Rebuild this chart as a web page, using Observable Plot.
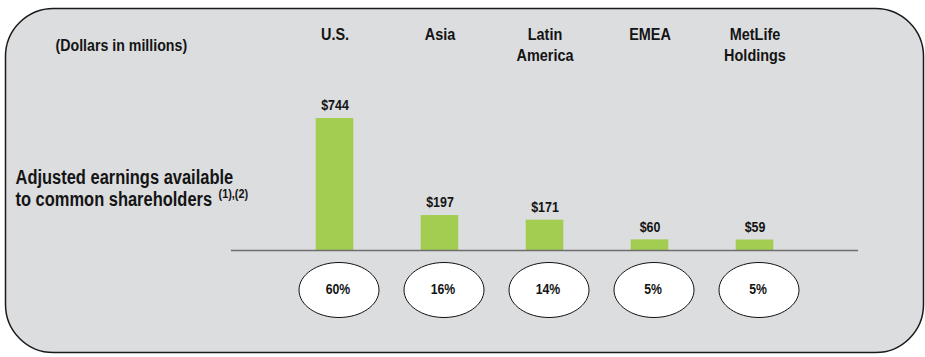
<!DOCTYPE html>
<html>
<head>
<meta charset="utf-8">
<script src="https://cdn.jsdelivr.net/npm/d3@7"></script>
<script src="https://cdn.jsdelivr.net/npm/@observablehq/plot@0.6"></script>
<style>
  html, body { margin: 0; padding: 0; background: #ffffff; }
  #chart svg { display: block; }
</style>
</head>
<body>
<div id="chart"></div>
<script>
// ---- data ----
const categories   = ["U.S.", "Asia", "Latin America", "EMEA", "MetLife Holdings"];
const headerLabels = ["U.S.", "Asia", "Latin\nAmerica", "EMEA", "MetLife\nHoldings"];
const earnings     = [744, 197, 171, 60, 59];
const valueLabels  = ["$744", "$197", "$171", "$60", "$59"];
const shareLabels  = ["60%", "16%", "14%", "5%", "5%"];
const unitsNote    = "(Dollars in millions)";
const rowLabel     = "Adjusted earnings available\nto common shareholders";
const rowFootnote  = "(1),(2)";

const table = categories.map((c, i) => ({
  cat: c, header: headerLabels[i], value: earnings[i], label: valueLabels[i], share: shareLabels[i]
}));

// the reference uses a condensed face; emulate it by squeezing glyphs horizontally
const squeeze = 0.84;
const f = { header: 17.2, value: 14.8, share: 14.6, units: 16.9, row: 19.6, foot: 13 };

// ellipse symbol for the share "pills"
const ellipse = {
  draw(context, size) {
    const ry = Math.sqrt(size / Math.PI);
    const rx = ry * 40 / 27.5;
    const k = 0.5523;
    context.moveTo(rx, 0);
    context.bezierCurveTo(rx, k * ry, k * rx, ry, 0, ry);
    context.bezierCurveTo(-k * rx, ry, -rx, k * ry, -rx, 0);
    context.bezierCurveTo(-rx, -k * ry, -k * rx, -ry, 0, -ry);
    context.bezierCurveTo(k * rx, -ry, rx, -k * ry, rx, 0);
    context.closePath();
  }
};

const W = 925, H = 357;
const ink = "#141414";

const chart = Plot.plot({
  width: W,
  height: H,
  margin: 0,
  style: { fontFamily: "'Liberation Sans', Arial, sans-serif", background: "#ffffff", overflow: "visible" },
  x: { type: "band", domain: categories, range: [281.3, 808.3], padding: 0, axis: null },
  y: { domain: [0, 744], range: [250, 118], axis: null },
  marks: [
    Plot.frame({ fill: "#dcdddf", stroke: "#1a1a1a", strokeWidth: 1.5, rx: 48,
                 insetLeft: 5, insetTop: 8, insetRight: 2, insetBottom: 5 }),
    Plot.barY(table, { x: "cat", y: "value", fill: "#a2cd50", insetLeft: 33.7, insetRight: 33.7 }),
    Plot.ruleY([0], { stroke: "#6e6e6e", strokeWidth: 1.6, insetLeft: 231, insetRight: 67 }),
    Plot.text(table, { x: "cat", y: "value", text: "label", dy: -13, fontSize: f.value, fontWeight: "bold", fill: ink }),
    Plot.text(table, { x: "cat", text: "header", frameAnchor: "top", lineAnchor: "top", dy: 24,
                       fontSize: f.header, lineHeight: 21.5 / f.header, fontWeight: "bold", fill: ink }),
    Plot.dot(table, { x: "cat", y: () => 0, dy: 39.5, dx: 4, symbol: ellipse, r: 27.5,
                      fill: "#ffffff", stroke: "#111111", strokeWidth: 1 }),
    Plot.text(table, { x: "cat", y: () => 0, text: "share", dy: 38.5, dx: 3, fontSize: f.share, fontWeight: "bold", fill: ink }),
    Plot.text([unitsNote], { frameAnchor: "top-left", textAnchor: "start", lineAnchor: "top", dx: 55, dy: 38,
                             fontSize: f.units, fontWeight: "bold", fill: ink }),
    Plot.text([rowLabel], { frameAnchor: "top-left", textAnchor: "start", lineAnchor: "top", dx: 15, dy: 168,
                            fontSize: f.row, lineHeight: 22 / f.row, fontWeight: "bold", fill: ink }),
    Plot.text([rowFootnote], { frameAnchor: "top-left", textAnchor: "start", lineAnchor: "top", dx: 218, dy: 188,
                               fontSize: f.foot, fontWeight: "bold", fill: ink })
  ]
});

// horizontal squeeze of every label, keeping its anchor point fixed
chart.querySelectorAll("text").forEach((t) => {
  let tr = t.getAttribute("transform") || "";
  const xa = t.getAttribute("x");
  if (xa !== null && !isNaN(+xa)) {
    tr = `translate(${+xa},0) ` + tr;
    t.removeAttribute("x");
  }
  t.setAttribute("transform", `${tr} scale(${squeeze},1)`.trim());
});

document.getElementById("chart").appendChild(chart);
</script>
</body>
</html>
